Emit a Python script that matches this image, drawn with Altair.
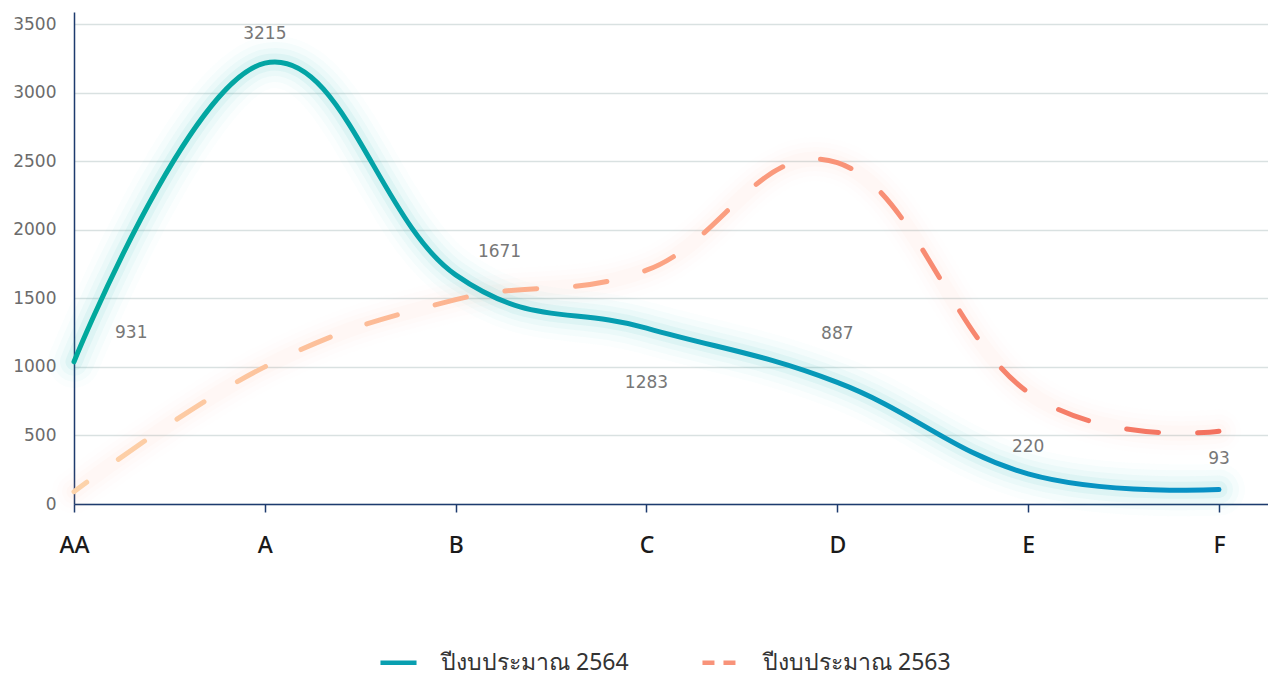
import json
import altair as alt
import pandas as pd

# ---- data ----
categories = ["AA", "A", "B", "C", "D", "E", "F"]
series_2564 = [1037, 3215, 1671, 1283, 887, 220, 105]
series_2563 = [90, 1000, 1490, 1705, 2490, 815, 530]
name_2564 = "ปีงบประมาณ 2564"
name_2563 = "ปีงบประมาณ 2563"

label_text = ["931", "3215", "1671", "1283", "887", "220", "93"]
label_x = [0.30, 1.0, 2.23, 3.0, 4.0, 5.0, 6.0]
label_y = [1247, 3427, 1838, 882, 1240, 416, 328]

y_ticks = [0, 500, 1000, 1500, 2000, 2500, 3000, 3500]

# ---- tables ----
rows = []
for i, c in enumerate(categories):
    rows.append({"idx": i, "cat": c, "value": series_2564[i], "series": name_2564})
for i, c in enumerate(categories):
    rows.append({"idx": i, "cat": c, "value": series_2563[i], "series": name_2563})
df = pd.DataFrame(rows)
df64 = df[df.series == name_2564]
df63 = df[df.series == name_2563]
labels_df = pd.DataFrame({"t": label_text, "idx": label_x, "value": label_y})

NAVY = "#1d3b6e"
FONT = "DejaVu Sans"
INTERP = "cardinal"
TENSION = -0.2

x_scale = alt.Scale(domain=[0, 6.257], nice=False, zero=False)
y_scale = alt.Scale(domain=[0, 3588], nice=False)

x_axis = alt.Axis(
    values=list(range(len(categories))),
    labelExpr=json.dumps(categories) + "[datum.value]",
    title=None, grid=False, domainColor=NAVY, domainWidth=1.5,
    tickColor=NAVY, tickWidth=1.5, tickSize=8, labelFlush=False,
    labelFont="Noto Sans", labelFontSize=23, labelFontWeight=500,
    labelColor="#1a1a1a", labelPadding=22,
)
y_axis = alt.Axis(
    values=y_ticks, title=None, grid=True, gridColor="#d9e1e1", gridWidth=1.5,
    domainColor=NAVY, domainWidth=1.5, ticks=False, format="d",
    labelFont=FONT, labelFontSize=17, labelColor="#6b6b6b", labelPadding=18,
)

X = alt.X("idx:Q", scale=x_scale, axis=x_axis)
Y = alt.Y("value:Q", scale=y_scale, axis=y_axis)

teal_grad = alt.Gradient(
    gradient="linear", x1=0, x2=1, y1=0, y2=0,
    stops=[alt.GradientStop(color="#00a99c", offset=0),
           alt.GradientStop(color="#079bb4", offset=0.55),
           alt.GradientStop(color="#0790c6", offset=1)],
)
salmon_grad = alt.Gradient(
    gradient="linear", x1=0, x2=1, y1=0, y2=0,
    stops=[alt.GradientStop(color="#fdd3aa", offset=0),
           alt.GradientStop(color="#fca585", offset=0.5),
           alt.GradientStop(color="#f3705e", offset=1)],
)

base64 = alt.Chart(df64)
base63 = alt.Chart(df63)

glows = []
for w, op in [(44, 0.012), (34, 0.018), (24, 0.025), (15, 0.035)]:
    glows.append(base63.mark_line(interpolate=INTERP, tension=TENSION, stroke="#ff9c84",
                                  strokeWidth=w, opacity=op, strokeCap="round")
                 .encode(x=X, y=Y))
for w, op in [(52, 0.02), (40, 0.03), (28, 0.045), (17, 0.07)]:
    glows.append(base64.mark_line(interpolate=INTERP, tension=TENSION, stroke="#2bbcbf",
                                  strokeWidth=w, opacity=op, strokeCap="round")
                 .encode(x=X, y=Y))

line63 = base63.mark_line(
    interpolate=INTERP, tension=TENSION, stroke=salmon_grad, strokeWidth=5,
    strokeDash=[32, 39], strokeDashOffset=16, strokeCap="round",
).encode(x=X, y=Y)

line64 = base64.mark_line(
    interpolate=INTERP, tension=TENSION, stroke=teal_grad, strokeWidth=5, strokeCap="round",
).encode(x=X, y=Y)

legend_layer = alt.Chart(df).transform_filter("datum.idx == 0").mark_line(strokeWidth=4.5).encode(
    x=X, y=Y,
    color=alt.Color(
        "series:N",
        scale=alt.Scale(domain=[name_2564, name_2563], range=["#099fb0", "#f8937a"]),
        legend=alt.Legend(
            title=None, orient="none", direction="horizontal",
            legendX=304, legendY=630,
            symbolType="stroke", symbolSize=1300, symbolStrokeWidth=4.5,
            labelFont="Noto Sans", labelFontSize=23, labelColor="#333333",
            labelOffset=22, columnPadding=64, labelLimit=400,
        ),
    ),
    strokeDash=alt.StrokeDash(
        "series:N",
        scale=alt.Scale(domain=[name_2564, name_2563], range=[[1, 0], [12, 9]]),
        legend=alt.Legend(title=None, orient="none", direction="horizontal",
                          legendX=304, legendY=630),
    ),
)

text_layer = alt.Chart(labels_df).mark_text(
    font=FONT, fontSize=17, color="#777777", baseline="middle", align="center",
).encode(x=X, y=Y, text="t:N")

chart = alt.layer(*glows, line63, line64, legend_layer, text_layer).properties(
    width=1194, height=492,
    autosize=alt.AutoSizeParams(type="none"),
    padding={"left": 66, "top": 4, "right": 0, "bottom": 172},
).configure_view(stroke=None)

chart.save("out.html", embed_options={"renderer": "svg", "actions": False})
